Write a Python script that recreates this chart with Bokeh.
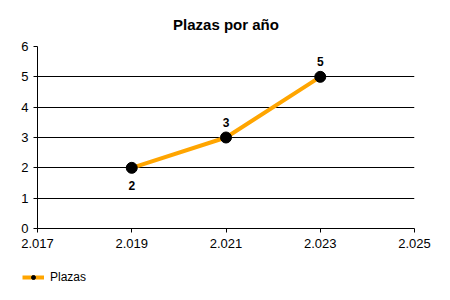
from bokeh.plotting import figure
from bokeh.models import FixedTicker, Legend, LegendItem, ColumnDataSource
from bokeh.layouts import column
from bokeh.core.properties import value
from bokeh.embed import file_html
from bokeh.resources import INLINE

years = [2019, 2021, 2023]
plazas = [2, 3, 5]
label_pos = ["below", "above", "above"]
x_ticks = [2017, 2019, 2021, 2023, 2025]
x_tick_labels = ["2.017", "2.019", "2.021", "2.023", "2.025"]
y_ticks = [0, 1, 2, 3, 4, 5, 6]
series_name = "Plazas"

FONT = "Liberation Sans"
ORANGE = "#FFA500"

p = figure(width=450, height=270, output_backend="svg", toolbar_location=None,
           x_range=(2017, 2025), y_range=(0, 6),
           min_border_left=37, min_border_right=36, min_border_top=46, min_border_bottom=42)
p.frame_align = False
p.title.text = "Plazas por año"
p.title.align = "center"
p.title.text_font = FONT
p.title.text_font_size = "15px"
p.title.text_font_style = "bold"
p.title.text_color = "black"
p.title.standoff = 27
p.outline_line_color = None
p.background_fill_color = "white"
p.border_fill_color = "white"

p.xgrid.grid_line_color = None
p.ygrid.grid_line_color = "black"
p.ygrid.grid_line_width = 1
p.ygrid.ticker = FixedTicker(ticks=y_ticks)

p.xaxis.ticker = FixedTicker(ticks=x_ticks)
p.xaxis.major_label_overrides = {t: l for t, l in zip(x_ticks, x_tick_labels)}
p.yaxis.ticker = FixedTicker(ticks=y_ticks)
for ax in (p.xaxis, p.yaxis):
    ax.axis_line_color = "black"
    ax.major_tick_line_color = "black"
    ax.major_tick_out = 4
    ax.major_tick_in = 0
    ax.minor_tick_line_color = None
    ax.major_label_text_font = FONT
    ax.major_label_text_font_size = "13px"
    ax.major_label_text_color = "black"
p.xaxis.major_label_standoff = 6
p.yaxis.major_label_standoff = 5

src = ColumnDataSource(dict(x=years, y=plazas, t=[str(v) for v in plazas],
                            off=[18 if pos == "below" else -15 for pos in label_pos]))
p.line("x", "y", source=src, line_color=ORANGE, line_width=4)
p.scatter("x", "y", source=src, size=11, fill_color="black", line_color="black")
p.text("x", "y", text="t", source=src, y_offset="off", text_align="center",
       text_baseline="middle", text_font=value(FONT), text_font_size="12px",
       text_font_style="bold", text_color="black")

# legend strip below the chart (its glyphs are drawn outside its visible range)
q = figure(width=450, height=30, output_backend="svg", toolbar_location=None,
           x_range=(0, 1), y_range=(0, 1), min_border=0,
           x_axis_location=None, y_axis_location=None)
q.frame_align = False
q.grid.visible = False
q.outline_line_color = None
q.border_fill_color = "white"
q.background_fill_color = "white"
lq = q.line(x=[-5, -4], y=[-5, -4], line_color=ORANGE, line_width=4)
sq = q.scatter(x=[-5], y=[-5], size=5, fill_color="black", line_color="black")
leg = Legend(items=[LegendItem(label=series_name, renderers=[lq, sq])],
             location=(22, 16), orientation="horizontal",
             background_fill_alpha=0, border_line_color=None,
             label_text_font=FONT, label_text_font_size="12px", label_text_color="black",
             glyph_width=22, glyph_height=10, padding=0, margin=0, label_standoff=6)
q.add_layout(leg, "center")

layout = column(p, q, spacing=0)
open("out.html", "w").write(file_html(layout, INLINE))
